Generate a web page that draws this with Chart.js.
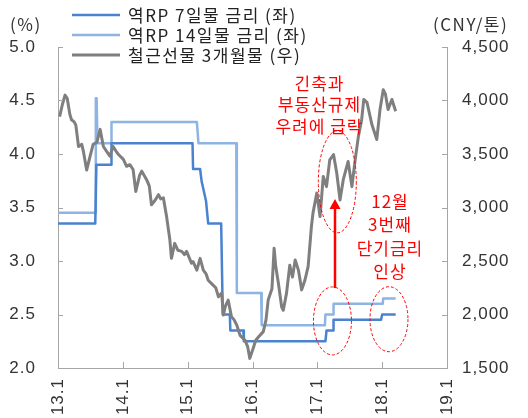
<!DOCTYPE html>
<html>
<head>
<meta charset="utf-8">
<script src="https://cdn.jsdelivr.net/npm/chart.js@4.4.1/dist/chart.umd.min.js"></script>
<style>
html, body { margin: 0; padding: 0; background: #fff; }
</style>
</head>
<body>
<canvas id="chart" width="528" height="418"></canvas>
<script>
// x = months since 2013.1
const yearLabels = ["13.1", "14.1", "15.1", "16.1", "17.1", "18.1", "19.1"];
const seriesNames = ["역RP 7일물 금리 (좌)", "역RP 14일물 금리 (좌)", "철근선물 3개월물 (우)"];

const rp7X = [0, 6.9, 7.1, 9.9, 9.9, 24.9, 25.0, 26.3, 26.6, 27.4, 27.8, 30.2, 30.5, 31.8, 31.9, 34.3, 34.4, 49.5, 49.7, 50.9, 51.0, 59.8, 60.0, 62.5];
const rp7Y = [3.35, 3.35, 3.9, 3.9, 4.1, 4.1, 3.86, 3.86, 3.74, 3.56, 3.35, 3.35, 2.5, 2.5, 2.35, 2.35, 2.25, 2.25, 2.35, 2.35, 2.45, 2.45, 2.5, 2.5];

const rp14X = [0, 6.9, 7.0, 7.15, 7.3, 9.9, 9.9, 25.7, 26.0, 33.0, 33.1, 37.6, 37.7, 49.4, 49.5, 50.9, 51.0, 60.1, 60.2, 62.5];
const rp14Y = [3.45, 3.45, 4.52, 4.52, 4.1, 4.1, 4.3, 4.3, 4.1, 4.1, 2.7, 2.7, 2.4, 2.4, 2.5, 2.5, 2.6, 2.6, 2.65, 2.65];

const rebarX = [0.3, 0.8, 1.3, 1.7, 2.2, 2.5, 3.0, 3.3, 3.8, 4.4, 4.7, 5.3, 5.9, 6.5, 7.2, 7.8, 8.4, 9.0, 9.6, 10.2, 10.7, 11.2, 12.1, 12.7, 13.3, 13.9, 14.4, 15.1, 15.5, 16.4, 16.9, 17.3, 18.0, 18.6, 19.0, 19.5, 20.1, 20.7, 21.0, 21.6, 22.2, 22.9, 23.4, 23.8, 24.7, 25.0, 25.7, 26.3, 26.9, 27.4, 27.8, 28.7, 29.2, 29.7, 30.3, 30.6, 31.0, 31.5, 32.1, 32.6, 33.1, 33.7, 34.6, 35.1, 35.5, 36.1, 36.6, 37.1, 38.0, 38.5, 38.9, 39.6, 40.0, 40.3, 40.8, 41.4, 41.7, 42.3, 42.9, 43.4, 43.9, 44.5, 45.1, 45.7, 46.3, 46.9, 47.2, 47.9, 48.5, 49.1, 49.7, 50.3, 51.0, 51.6, 52.2, 52.8, 53.7, 54.4, 55.0, 55.6, 56.2, 56.6, 57.2, 58.1, 59.0, 59.6, 60.2, 60.6, 61.1, 61.8, 62.5];
const rebarY = [3850, 3960, 4050, 4020, 3870, 3820, 3800, 3770, 3570, 3590, 3525, 3350, 3470, 3590, 3610, 3730, 3570, 3525, 3480, 3570, 3530, 3495, 3450, 3385, 3400, 3355, 3150, 3300, 3340, 3260, 3200, 3025, 3070, 3120, 3080, 3090, 2915, 2700, 2525, 2665, 2600, 2590, 2560, 2590, 2480, 2495, 2415, 2525, 2415, 2380, 2320, 2275, 2250, 2165, 2200, 1995, 2080, 2135, 1980, 1950, 1900, 1805, 1760, 1700, 1590, 1680, 1760, 1790, 1840, 1950, 2135, 2240, 2620, 2450, 2290, 2070, 2040, 2200, 2460, 2350, 2510, 2415, 2230, 2320, 2450, 2820, 2950, 3135, 2915, 3290, 3195, 3445, 3495, 3320, 3070, 3260, 3430, 3195, 3445, 3665, 3820, 4010, 3980, 3775, 3635, 3915, 4100, 4060, 3915, 4010, 3900];

const colors = ["#4a82cf", "#8db4e3", "#7f7f7f"];
const NUM_FONT = "'Liberation Sans', 'Noto Sans CJK KR', sans-serif";
const KR_FONT = "'Noto Sans CJK KR', 'Liberation Sans', sans-serif";
const AXIS = "#a6a6a6";
const RED = "#ff0000";

const pts = (xs, ys) => xs.map((v, i) => ({x: v, y: ys[i]}));

// annotations: centres in data units (month, left-axis %)
const notes = {
    textA: {x: 48.3, y: [4.66, 4.46, 4.26], lines: ["긴축과", "부동산규제", "우려에 급락"]},
    textB: {x: 61.35, y: [3.556, 3.338, 3.119, 2.90], lines: ["12월", "3번째", "단기금리", "인상"]},
    ellipses: [
        {x: 51.7, y: 3.74, rx: 19, ry: 51},
        {x: 50.8, y: 2.44, rx: 19, ry: 34},
        {x: 61.26, y: 2.456, rx: 19, ry: 32.5}
    ],
    arrow: {x: 51.27, from: 2.747, to: 3.58}
};

const spacing = {
    id: "spacing",
    beforeDraw(chart) { chart.ctx.letterSpacing = "1px"; }
};

const decor = {
    id: "decor",
    afterDraw(chart) {
        const {ctx, chartArea: a, scales: {x, y, y1}} = chart;
        ctx.save();

        // inward tick marks
        ctx.strokeStyle = AXIS;
        ctx.lineWidth = 1;
        ctx.beginPath();
        y.ticks.forEach(t => {
            const p = Math.round(y.getPixelForValue(t.value)) + 0.5;
            ctx.moveTo(a.left, p); ctx.lineTo(a.left + 5, p);
        });
        y1.ticks.forEach(t => {
            const p = Math.round(y1.getPixelForValue(t.value)) + 0.5;
            ctx.moveTo(a.right, p); ctx.lineTo(a.right - 5, p);
        });
        x.ticks.forEach(t => {
            const p = Math.round(x.getPixelForValue(t.value)) + 0.5;
            ctx.moveTo(p, a.bottom); ctx.lineTo(p, a.bottom - 6);
        });
        ctx.stroke();

        // axis titles
        ctx.fillStyle = "#333";
        ctx.font = "17px " + KR_FONT;
        ctx.letterSpacing = "1.5px";
        ctx.textBaseline = "middle";
        ctx.textAlign = "left";
        ctx.fillText("(%)", 10, 25);
        ctx.fillText("(CNY/톤)", 433, 25);

        // legend
        seriesNames.forEach((name, i) => {
            const ly = 15 + i * 20;
            ctx.strokeStyle = colors[i];
            ctx.lineWidth = i === 2 ? 3 : 2.5;
            ctx.beginPath();
            ctx.moveTo(72, ly); ctx.lineTo(120, ly);
            ctx.stroke();
            ctx.fillStyle = "#222";
            ctx.fillText(name, 128, ly + 1);
        });

        // red annotations
        ctx.fillStyle = RED;
        ctx.strokeStyle = RED;
        ctx.textAlign = "center";
        ctx.letterSpacing = "1px";
        [notes.textA, notes.textB].forEach(n => {
            n.lines.forEach((s, i) => {
                ctx.fillText(s, x.getPixelForValue(n.x) + 0.5, y.getPixelForValue(n.y[i]));
            });
        });

        ctx.lineWidth = 1;
        ctx.setLineDash([3, 2]);
        notes.ellipses.forEach(e => {
            ctx.beginPath();
            ctx.ellipse(x.getPixelForValue(e.x), y.getPixelForValue(e.y), e.rx, e.ry, 0, 0, Math.PI * 2);
            ctx.stroke();
        });
        ctx.setLineDash([]);

        const ax = x.getPixelForValue(notes.arrow.x);
        const a0 = y.getPixelForValue(notes.arrow.from);
        const a1 = y.getPixelForValue(notes.arrow.to);
        ctx.lineWidth = 2.5;
        ctx.beginPath();
        ctx.moveTo(ax, a0); ctx.lineTo(ax, a1 + 8);
        ctx.stroke();
        ctx.beginPath();
        ctx.moveTo(ax, a1);
        ctx.lineTo(ax - 5.5, a1 + 10);
        ctx.lineTo(ax + 5.5, a1 + 10);
        ctx.closePath();
        ctx.fill();

        ctx.restore();
    }
};

new Chart(document.getElementById("chart"), {
    type: "line",
    data: {
        datasets: [
            {label: seriesNames[0], data: pts(rp7X, rp7Y), borderColor: colors[0], borderWidth: 2.5, yAxisID: "y", order: 2},
            {label: seriesNames[1], data: pts(rp14X, rp14Y), borderColor: colors[1], borderWidth: 2.5, yAxisID: "y", order: 3},
            {label: seriesNames[2], data: pts(rebarX, rebarY), borderColor: colors[2], borderWidth: 3, yAxisID: "y1", order: 1}
        ]
    },
    options: {
        responsive: false,
        animation: false,
        devicePixelRatio: 1,
        elements: {point: {radius: 0}, line: {tension: 0, borderJoinStyle: "round"}},
        layout: {padding: {top: 47, left: 0, right: 0, bottom: 0}},
        plugins: {legend: {display: false}, tooltip: {enabled: false}},
        scales: {
            x: {
                type: "linear", min: 0, max: 72,
                grid: {display: false, drawTicks: false},
                border: {color: AXIS},
                ticks: {
                    stepSize: 12, autoSkip: false, maxRotation: 90, minRotation: 90, padding: 10,
                    color: "#333", font: {size: 17, family: NUM_FONT},
                    callback: v => yearLabels[Math.round(v / 12)]
                },
                afterFit(s) { s.height = 50; s.paddingLeft = 0; s.paddingRight = 0; }
            },
            y: {
                position: "left", min: 2, max: 5,
                grid: {display: false, drawTicks: false},
                border: {color: AXIS},
                ticks: {stepSize: 0.5, padding: 22, color: "#333", font: {size: 17, family: NUM_FONT}, callback: v => v.toFixed(1)},
                afterFit(s) { s.width = 58; s.paddingTop = 0; s.paddingBottom = 0; }
            },
            y1: {
                position: "right", min: 1500, max: 4500,
                grid: {display: false, drawTicks: false},
                border: {color: AXIS},
                ticks: {stepSize: 500, padding: 15, color: "#333", font: {size: 17, family: NUM_FONT}, callback: v => v.toLocaleString("en-US")},
                afterFit(s) { s.width = 81; s.paddingTop = 0; s.paddingBottom = 0; }
            }
        }
    },
    plugins: [spacing, decor]
});
</script>
</body>
</html>
